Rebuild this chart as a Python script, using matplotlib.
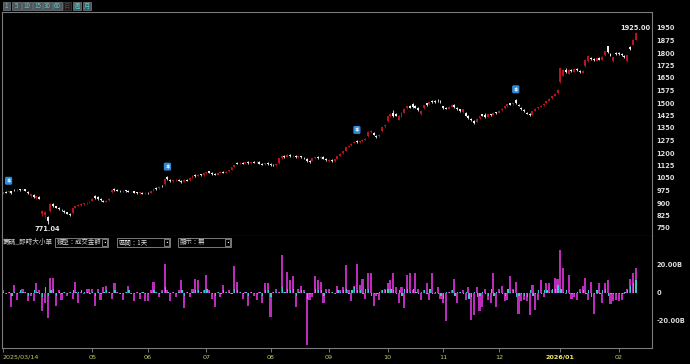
import numpy as np
import matplotlib
matplotlib.use("Agg")
import matplotlib.pyplot as plt
from matplotlib.patches import Rectangle

# daily OHLC, one line per month (2025/03/14 .. 2026/02)
opens = [
    958, 968, 965, 970, 980, 978, 982, 980, 982, 968, 945, 950,
    928, 938, 835, 828, 815, 850, 892, 880, 870, 860, 855, 845, 834, 840, 872, 885, 890, 896, 898, 905,
    912, 945, 935, 922, 915, 906, 918, 965, 985, 978, 975, 970, 976, 972, 970, 972, 965, 960, 962, 958,
    962, 960, 978, 990, 988, 1002, 1012, 1055, 1040, 1030, 1036, 1040, 1032, 1028, 1040, 1036, 1055, 1068, 1062, 1072, 1068,
    1080, 1090, 1080, 1074, 1068, 1082, 1088, 1080, 1090, 1100, 1118, 1140, 1138, 1142, 1138, 1145, 1140, 1146, 1144, 1148, 1136, 1132, 1140,
    1134, 1128, 1126, 1138, 1170, 1184, 1176, 1188, 1180, 1185, 1174, 1180, 1172, 1166, 1150, 1152, 1172, 1178, 1168, 1178, 1164,
    1150, 1160, 1150, 1165, 1182, 1198, 1215, 1238, 1248, 1262, 1275, 1265, 1270, 1280, 1300, 1328, 1322, 1305, 1300, 1330, 1360,
    1390, 1420, 1440, 1435, 1400, 1418, 1442, 1470, 1485, 1496, 1480, 1470, 1432, 1470, 1498, 1495, 1515, 1512, 1515, 1514,
    1480, 1472, 1466, 1478, 1488, 1472, 1462, 1444, 1442, 1422, 1406, 1395, 1388, 1408, 1432, 1430, 1418, 1432, 1430, 1445,
    1442, 1456, 1468, 1482, 1498, 1492, 1520, 1490, 1472, 1460, 1442, 1436, 1430, 1455, 1468, 1478, 1488, 1500, 1515, 1528, 1545, 1560,
    1625, 1665, 1700, 1676, 1700, 1688, 1706, 1694, 1682, 1722, 1752, 1772, 1766, 1754, 1770, 1760, 1788, 1840, 1795, 1752, 1800,
    1800, 1794, 1784, 1752, 1838, 1850, 1880,
]
highs = [
    968, 972, 975, 972, 984, 985, 986, 986, 985, 970, 955, 952,
    945, 942, 858, 850, 822, 900, 902, 885, 874, 866, 858, 848, 838, 872, 885, 895, 898, 902, 905, 912,
    928, 948, 940, 928, 918, 918, 928, 985, 990, 984, 980, 978, 980, 976, 975, 974, 968, 968, 965, 964,
    968, 975, 990, 995, 1002, 1008, 1048, 1060, 1045, 1040, 1044, 1046, 1036, 1042, 1045, 1055, 1068, 1075, 1072, 1076, 1080,
    1088, 1095, 1084, 1078, 1082, 1090, 1092, 1090, 1100, 1118, 1130, 1148, 1146, 1145, 1146, 1150, 1148, 1152, 1150, 1150, 1140, 1142, 1144,
    1138, 1132, 1136, 1172, 1186, 1188, 1192, 1192, 1188, 1188, 1184, 1184, 1176, 1168, 1156, 1172, 1178, 1182, 1180, 1182, 1168,
    1162, 1165, 1164, 1182, 1198, 1212, 1238, 1248, 1258, 1272, 1280, 1274, 1282, 1290, 1330, 1340, 1326, 1310, 1314, 1358, 1372,
    1425, 1438, 1456, 1442, 1428, 1445, 1468, 1485, 1490, 1500, 1486, 1474, 1458, 1490, 1502, 1508, 1520, 1518, 1522, 1520,
    1484, 1476, 1480, 1492, 1492, 1476, 1466, 1464, 1446, 1426, 1410, 1400, 1408, 1422, 1436, 1438, 1434, 1436, 1444, 1448,
    1456, 1470, 1482, 1496, 1502, 1502, 1524, 1494, 1476, 1464, 1446, 1440, 1454, 1468, 1478, 1488, 1498, 1512, 1528, 1542, 1560, 1585,
    1715, 1705, 1708, 1702, 1706, 1710, 1712, 1700, 1698, 1765, 1788, 1778, 1772, 1772, 1774, 1780, 1815, 1845, 1800, 1778, 1806,
    1806, 1800, 1788, 1790, 1842, 1882, 1925,
]
lows = [
    955, 960, 960, 955, 972, 974, 975, 976, 970, 955, 938, 930,
    922, 922, 822, 810, 771.04, 845, 878, 868, 860, 850, 842, 832, 822, 836, 868, 880, 885, 890, 892, 900,
    910, 925, 920, 912, 905, 904, 915, 960, 972, 970, 968, 966, 968, 964, 965, 960, 955, 956, 952, 954,
    955, 958, 975, 980, 985, 995, 1010, 1038, 1028, 1026, 1030, 1030, 1022, 1025, 1030, 1034, 1052, 1058, 1060, 1062, 1065,
    1076, 1078, 1070, 1066, 1066, 1078, 1078, 1078, 1086, 1098, 1115, 1132, 1134, 1132, 1134, 1136, 1136, 1140, 1138, 1132, 1128, 1130, 1130,
    1124, 1120, 1122, 1136, 1166, 1172, 1174, 1178, 1176, 1172, 1170, 1170, 1164, 1146, 1142, 1150, 1166, 1166, 1165, 1162, 1152,
    1146, 1148, 1148, 1162, 1180, 1195, 1212, 1235, 1244, 1258, 1262, 1260, 1268, 1276, 1298, 1322, 1308, 1292, 1296, 1328, 1352,
    1386, 1416, 1418, 1420, 1396, 1415, 1438, 1466, 1468, 1470, 1468, 1455, 1428, 1466, 1484, 1490, 1500, 1502, 1506, 1500,
    1465, 1462, 1462, 1474, 1472, 1460, 1448, 1440, 1422, 1406, 1392, 1375, 1384, 1404, 1420, 1412, 1414, 1424, 1428, 1436,
    1440, 1452, 1464, 1478, 1486, 1488, 1494, 1480, 1460, 1446, 1432, 1424, 1428, 1452, 1464, 1474, 1484, 1496, 1512, 1524, 1540, 1556,
    1620, 1660, 1680, 1672, 1686, 1684, 1692, 1680, 1678, 1718, 1748, 1760, 1752, 1750, 1756, 1756, 1784, 1800, 1780, 1748, 1790,
    1788, 1782, 1770, 1748, 1818, 1846, 1876,
]
closes = [
    965, 962, 972, 958, 976, 981, 978, 983, 972, 958, 952, 935,
    940, 925, 852, 845, 790, 895, 882, 872, 864, 856, 846, 836, 826, 868, 882, 890, 894, 898, 902, 906,
    925, 930, 924, 916, 908, 915, 925, 980, 976, 974, 972, 975, 971, 968, 972, 963, 958, 965, 955, 960,
    958, 972, 986, 985, 998, 1000, 1045, 1042, 1032, 1036, 1040, 1033, 1028, 1040, 1034, 1052, 1065, 1062, 1070, 1066, 1078,
    1085, 1082, 1074, 1070, 1080, 1088, 1082, 1088, 1096, 1115, 1126, 1136, 1142, 1136, 1144, 1140, 1146, 1143, 1148, 1135, 1131, 1140, 1134,
    1128, 1126, 1132, 1168, 1182, 1175, 1188, 1182, 1185, 1176, 1181, 1174, 1168, 1150, 1148, 1170, 1175, 1168, 1178, 1165, 1156,
    1158, 1150, 1162, 1180, 1195, 1210, 1235, 1245, 1255, 1268, 1265, 1270, 1278, 1286, 1325, 1334, 1310, 1298, 1310, 1355, 1368,
    1420, 1432, 1422, 1425, 1420, 1440, 1465, 1480, 1472, 1474, 1472, 1460, 1455, 1488, 1490, 1505, 1506, 1508, 1510, 1504,
    1470, 1466, 1478, 1490, 1475, 1464, 1450, 1462, 1425, 1410, 1396, 1380, 1405, 1420, 1424, 1416, 1432, 1428, 1442, 1440,
    1454, 1466, 1480, 1494, 1490, 1498, 1498, 1484, 1464, 1450, 1436, 1428, 1450, 1465, 1475, 1485, 1495, 1510, 1525, 1540, 1556, 1580,
    1710, 1700, 1684, 1698, 1690, 1706, 1696, 1684, 1695, 1760, 1782, 1764, 1756, 1768, 1760, 1776, 1810, 1805, 1785, 1775, 1795,
    1792, 1786, 1774, 1786, 1822, 1878, 1918,
]

# 即時大小單 成交金額 (billions): big orders (magenta), small orders (cyan)
big_orders = [
    2, -1, 1, -10, 6, -5, 1, 3, 1, -6, -2, -6,
    7, 2, -13, -7, -18, 11, 11, -9, 2, -5, 1, -2, 1, -4, 8, -7, 1, -1, 3, 3,
    3, -9, 3, -5, 4, 5, 1, -4, 7, 1, -1, -5, 1, 5, -1, -6, 1, -4, 1, -6,
    -6, 2, 8, 1, -3, 2, 21, 2, -6, 1, -3, 2, 9, -11, 1, -3, 3, 10, 9, 1, 2,
    13, 2, -4, -10, 1, -3, 6, 1, 2, -1, 19, 8, 1, -4, 1, -9, 1, -2, -5, 1, -7, 7, 7,
    -17, 1, 3, 1, 27, 1, 15, 9, 12, -10, 3, 5, 2, -37, -5, -3, 12, 9, 8, -7, 3,
    3, 1, -1, 5, 2, 4, 20, 2, -6, 5, 21, 6, 10, -4, 14, 14, -9, -2, -5, 2, 3,
    7, 9, 14, 4, -7, 4, -11, 13, 14, 2, 14, 3, -5, 2, 7, -5, 14, -1, 4, -4,
    -7, -20, 1, 2, 10, -7, 1, 2, -5, 4, -19, -16, 4, -13, -10, 3, -5, -7, 14, -10,
    3, 5, -6, -5, 12, 3, 8, -15, -6, -5, -6, -16, 6, -12, -5, 9, -3, 7, 7, 2, 11, 10,
    31, 18, -1, 13, -4, -3, -5, 3, 5, 11, -5, 8, -15, -1, 7, -7, 7, 9, -8, -6, -5,
    -6, -5, -1, 3, 10, 14, 18,
]
small_orders = [
    1, -1, 1, -2, 1, -1, 2, 1, 1, -2, -1, 2,
    1, -1, -3, 4, -2, 2, 3, -2, 1, -1, 1, -1, 1, 2, 1, 1, 2, 1, 1, -1,
    1, -2, 1, -1, 1, 2, 1, -1, 2, 1, -1, -1, 1, 2, -1, -1, 1, -1, 1, -1,
    -1, 1, 2, 1, -1, 1, 4, 1, -1, 1, -1, 1, 2, -2, 1, -1, 1, 2, 2, 1, 2,
    3, 1, -1, -2, 1, -1, 2, 1, 1, -1, 3, 2, 1, -1, 1, -2, 1, -1, -1, 1, -2, 2, 2,
    -3, 1, 1, 1, 4, 1, 3, 2, 3, -2, 1, 2, 1, -4, -1, -1, 3, 2, 2, -2, 1,
    1, 1, -1, 2, 1, 2, 3, -1, 2, 4, 2, 2, -1, 3, 3, -2, -1, -1, 1, 2, 2,
    3, 3, 2, -1, 2, -2, 3, 3, 1, 3, 1, -1, 1, 2, -1, 3, -1, 1, -1, -2,
    -4, 1, 1, 2, -2, 1, 1, -1, 1, -4, -3, 1, -3, -2, 1, -1, -2, 3, -2, 1,
    1, -1, -2, 3, 1, 2, -3, -2, -1, -2, -3, 2, -2, -1, 2, -1, 2, 2, 1, 3, 3, 6,
    3, 1, 2, -1, -1, -1, 1, 1, 2, -1, 2, -3, -1, 2, -1, 2, 3, -2, -1, -1, -1,
    -1, -1, 1, 2, 5, 7, 9,
]

date_ticks = [0, 32, 52, 73, 96, 117, 138, 158, 178, 200, 221]
date_labels = ["2025/03/14", "05", "06", "07", "08", "09", "10", "11", "12", "2026/01", "02"]
dividend_days = [2, 59, 127, 184]
price_ticks = list(range(750, 1951, 75))

o = np.array(opens, float)
h = np.array(highs, float)
l = np.array(lows, float)
c = np.array(closes, float)
x = np.arange(len(c))

CJK = ["Noto Sans CJK TC", "DejaVu Sans"]
W, H = 690, 364
fig = plt.figure(figsize=(W / 100, H / 100), dpi=100, facecolor="black")

ax = fig.add_axes([2 / W, 1 - 236 / H, 650 / W, 224 / H], facecolor="black")
ax2 = fig.add_axes([2 / W, 1 - 348 / H, 650 / W, 112 / H], facecolor="black")

up = c >= o
cols = np.where(up, "#b8141f", "#f0f0f0")
ax.vlines(x, l, h, colors=cols, lw=0.6)
body = np.maximum(np.abs(c - o), 3)
ax.bar(x, body, bottom=np.minimum(o, c), width=0.7, color=cols, linewidth=0)

ax.set_xlim(-0.36, 232.9)
ax.set_ylim(702, 2046)
ax.set_xticks([])
ax.yaxis.tick_right()
ax.set_yticks(price_ticks)
ax.tick_params(axis="y", length=0, pad=3, labelsize=4.8, labelcolor="#dcdcdc")
for t in ax.get_yticklabels():
    t.set_fontweight("bold")

lo_i = int(np.argmin(l))
hi_i = int(np.argmax(h))
ax.annotate(f"{l[lo_i]:.2f}", (lo_i, l[lo_i]), xytext=(0, -1), textcoords="offset points",
            ha="center", va="top", fontsize=4.8, color="#e8e8e8", fontweight="bold")
ax.annotate(f"{h[hi_i]:.2f}", (hi_i, h[hi_i]), xytext=(0, 1), textcoords="offset points",
            ha="center", va="bottom", fontsize=4.8, color="#e8e8e8", fontweight="bold")
for d in dividend_days:
    ax.annotate("$", (d, h[d]), xytext=(0, 7), textcoords="offset points", ha="center", va="center",
                fontsize=4.3, color="white", fontweight="bold",
                bbox=dict(boxstyle="round,pad=0.25", fc="#2e8ad6", ec="none"))

ax2.bar(x, big_orders, width=0.75, color="#bb2cbb", linewidth=0)
ax2.bar(x + 0.2, small_orders, width=0.45, color="#3cc8c8", linewidth=0)
ax2.set_xlim(-0.36, 232.9)
ax2.set_ylim(-39.3, 40.7)
ax2.yaxis.tick_right()
ax2.set_yticks([20, 0, -20])
ax2.set_yticklabels(["20.00B", "0", "-20.00B"])
ax2.tick_params(axis="y", length=0, pad=3, labelsize=4.8, labelcolor="#dcdcdc")
for t in ax2.get_yticklabels():
    t.set_fontweight("bold")
ax2.set_xticks(date_ticks)
ax2.set_xticklabels(date_labels)
ax2.tick_params(axis="x", length=3, width=0.6, color="#8a8a8a", pad=2, labelsize=4.6,
                labelcolor="#c9c86a")
for t in ax2.get_xticklabels():
    if t.get_text() == "2025/03/14":
        t.set_ha("left")
    if t.get_text() == "2026/01":
        t.set_color("#f2ee5a")
        t.set_fontweight("bold")

for a in (ax, ax2):
    for s in a.spines.values():
        s.set_color("#7a7a7a")
        s.set_linewidth(0.8)
ax2.spines["top"].set_visible(False)


def box(x0, y0, w, h, fc, ec, text, tc, fs=5, ha="center"):
    fig.add_artist(Rectangle((x0 / W, 1 - (y0 + h) / H), w / W, h / H, transform=fig.transFigure,
                             fc=fc, ec=ec, lw=0.6))
    tx = x0 + w / 2 if ha == "center" else x0 + 2
    fig.text(tx / W, 1 - (y0 + h / 2) / H, text, ha=ha, va="center", fontsize=fs, color=tc,
             family=CJK)


# period buttons at the top
buttons = [("1", 3, 7), ("5", 12, 9), ("10", 22, 10), ("15", 33, 9), ("30", 43, 9),
           ("60", 53, 9), ("日", 63, 8), ("週", 73, 8), ("月", 83, 8)]
for label, bx, bw in buttons:
    if label == "日":
        box(bx, 2, bw, 8, "#1a1a1a", "#3a3a3a", label, "#8a3030", fs=4.5)
    else:
        box(bx, 2, bw, 8, "#4c5559", "#6a7275", label, "#52d2d2", fs=4.5)

# lower panel header
fig.text(3 / W, 1 - 242 / H, "籌碼_即時大小單", ha="left", va="center", fontsize=4.8,
         color="#d0d0d0", family=CJK)
for bx, text in [(55, "類型：成交金額"), (117, "區間：1天"), (178, "顯示：無")]:
    box(bx, 238, 53, 9, "black", "#8c8c8c", text, "#e0e0e0", fs=4.6, ha="left")
    box(bx + 47, 239, 5, 7, "black", "#8c8c8c", "▪", "#e0e0e0", fs=3.5)

fig.savefig("out.png", dpi=100, facecolor="black")
